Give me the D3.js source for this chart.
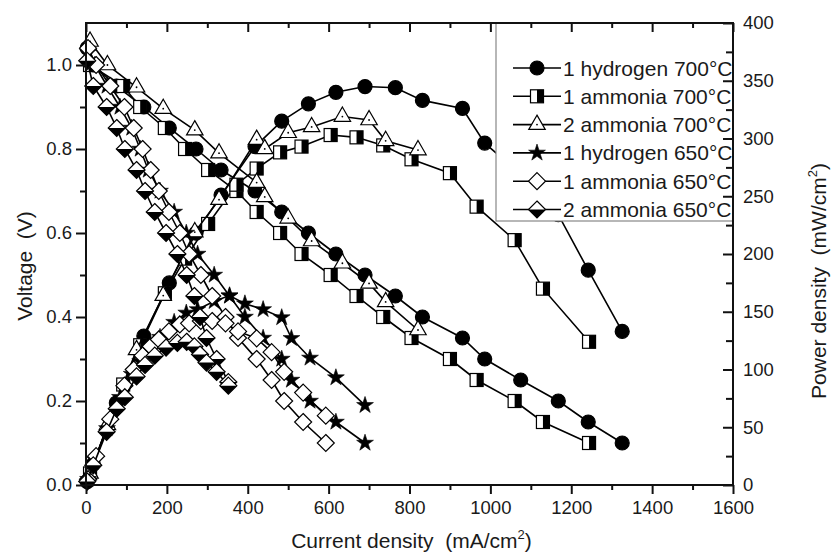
<!DOCTYPE html>
<html><head><meta charset="utf-8">
<script src="https://cdn.jsdelivr.net/npm/d3@7"></script>
<style>body{margin:0;background:#fff;} svg{display:block;font-family:"Liberation Sans",Arial,sans-serif;} text{white-space:pre;}</style>
</head><body><svg id="c" width="832" height="556"></svg>
<script>
// ---- data ----
const seriesNames = ["1 hydrogen 700°C","1 ammonia 700°C","2 ammonia 700°C","1 hydrogen 650°C","1 ammonia 650°C","2 ammonia 650°C"];

const currentH700 = [3, 18, 75, 143, 206, 272, 334, 418, 484, 550, 618, 690, 765, 832, 931, 986, 1075, 1168, 1242, 1326];
const voltageH700 = [1.04, 1.0, 0.95, 0.90, 0.85, 0.80, 0.75, 0.70, 0.65, 0.60, 0.55, 0.50, 0.45, 0.40, 0.35, 0.30, 0.25, 0.20, 0.15, 0.10];
const powerH700   = [3, 18, 71, 129, 175, 218, 251, 293, 315, 330, 340, 345, 344, 333, 326, 296, 269, 234, 186, 133];

const currentA700 = [10, 92, 134, 195, 245, 302, 372, 422, 480, 533, 605, 669, 735, 805, 900, 966, 1060, 1130, 1244];
const voltageA700 = [1.0, 0.95, 0.90, 0.85, 0.80, 0.75, 0.70, 0.65, 0.60, 0.55, 0.50, 0.45, 0.40, 0.35, 0.30, 0.25, 0.20, 0.15, 0.10];
const powerA700   = [10, 87, 121, 166, 196, 226, 260, 274, 288, 293, 303, 301, 294, 282, 270, 241, 212, 170, 124];

const currentA2700 = [10, 53, 125, 191, 269, 329, 422, 442, 500, 558, 634, 700, 741, 821];
const voltageA2700 = [1.056, 1.0, 0.947, 0.896, 0.845, 0.79, 0.72, 0.686, 0.635, 0.581, 0.528, 0.48, 0.436, 0.369];
const powerA2700   = [10, 52, 117, 164, 219, 247, 299, 291, 305, 310, 319, 316, 298, 290];

const currentH650 = [5, 22, 52, 84, 113, 134, 154, 183, 218, 248, 276, 317, 355, 393, 438, 484, 508, 554, 618, 690];
const voltageH650 = [1.03, 1.0, 0.95, 0.90, 0.85, 0.80, 0.75, 0.70, 0.65, 0.60, 0.55, 0.50, 0.45, 0.40, 0.35, 0.30, 0.25, 0.20, 0.15, 0.10];
const powerH650   = [5, 22, 49, 76, 96, 107, 116, 128, 141, 149, 152, 159, 164, 157, 152, 145, 127, 110, 93, 69];

const currentA650 = [5, 25, 60, 95, 118, 140, 160, 180, 205, 232, 255, 284, 312, 345, 376, 422, 459, 490, 537, 593];
const voltageA650 = [1.04, 1.0, 0.95, 0.90, 0.85, 0.80, 0.75, 0.70, 0.65, 0.60, 0.55, 0.50, 0.45, 0.40, 0.35, 0.30, 0.25, 0.20, 0.15, 0.10];
const powerA650   = [5, 25, 57, 86, 100, 112, 120, 126, 133, 139, 140, 142, 142, 140, 133, 127, 115, 98, 80, 60];

const currentA2650 = [3, 18, 51, 76, 96, 125, 146, 170, 198, 226, 249, 268, 282, 298, 323, 352];
const voltageA2650 = [1.01, 0.95, 0.90, 0.85, 0.80, 0.75, 0.70, 0.65, 0.60, 0.55, 0.50, 0.45, 0.40, 0.35, 0.30, 0.245];
const powerA2650   = [3, 17, 46, 66, 76, 94, 104, 112, 119, 123, 124, 120, 113, 106, 98, 86];

const xTickValues = [0, 200, 400, 600, 800, 1000, 1200, 1400, 1600];
const yLeftTickValues = [0.0, 0.2, 0.4, 0.6, 0.8, 1.0];
const yRightTickValues = [0, 50, 100, 150, 200, 250, 300, 350, 400];

const xTitle = "Current density  (mA/cm";
const yLeftTitle = "Voltage  (V)";
const yRightTitle = "Power density  (mW/cm";

// ---- layout ----
const L = 86, R = 733, T = 23, B = 485;
const svg = d3.select("#c");
const x = d3.scaleLinear().domain([0, 1600]).range([L, R]);
const yV = d3.scaleLinear().domain([0, 1.1]).range([B, T]);
const yP = d3.scaleLinear().domain([0, 400]).range([B, T]);
const FS = 18.5;
const TXT = "#1a1a1a";

const series = [
  {name: seriesNames[0], I: currentH700, V: voltageH700, P: powerH700, m: "circle"},
  {name: seriesNames[1], I: currentA700, V: voltageA700, P: powerA700, m: "halfsquare"},
  {name: seriesNames[2], I: currentA2700, V: voltageA2700, P: powerA2700, m: "triangle"},
  {name: seriesNames[3], I: currentH650, V: voltageH650, P: powerH650, m: "star"},
  {name: seriesNames[4], I: currentA650, V: voltageA650, P: powerA650, m: "diamond"},
  {name: seriesNames[5], I: currentA2650, V: voltageA2650, P: powerA2650, m: "halfdiamond"}
];

function drawMarker(g, type) {
  const sw = 1.2;
  if (type === "circle") {
    g.append("circle").attr("r", 7).attr("fill", "#000").attr("stroke", "#000").attr("stroke-width", sw);
  } else if (type === "halfsquare") {
    const s = 6.5;
    g.append("rect").attr("x", -s).attr("y", -s).attr("width", 2*s).attr("height", 2*s).attr("fill", "#fff");
    g.append("rect").attr("x", 0).attr("y", -s).attr("width", s).attr("height", 2*s).attr("fill", "#000");
    g.append("rect").attr("x", -s).attr("y", -s).attr("width", 2*s).attr("height", 2*s).attr("fill", "none").attr("stroke", "#000").attr("stroke-width", sw);
  } else if (type === "triangle") {
    const r = 9.5;
    const p = `M0,${-r}L${r*0.866},${r*0.5}L${-r*0.866},${r*0.5}Z`;
    g.append("path").attr("d", p).attr("fill", "#fff").attr("stroke", "#000").attr("stroke-width", sw);
    g.append("circle").attr("r", 0.9).attr("fill", "#000");
  } else if (type === "star") {
    g.append("path").attr("d", d3.symbol(d3.symbolStar, 88)()).attr("fill", "#000").attr("stroke", "#000").attr("stroke-width", 0.6);
  } else if (type === "diamond") {
    const r = 8.5;
    g.append("path").attr("d", `M0,${-r}L${r},0L0,${r}L${-r},0Z`).attr("fill", "#fff").attr("stroke", "#000").attr("stroke-width", sw);
  } else if (type === "halfdiamond") {
    const r = 8.5;
    g.append("path").attr("d", `M0,${-r}L${r},0L0,${r}L${-r},0Z`).attr("fill", "#fff");
    g.append("path").attr("d", `M${-r},0L${r},0L0,${r}Z`).attr("fill", "#000");
    g.append("path").attr("d", `M0,${-r}L${r},0L0,${r}L${-r},0Z`).attr("fill", "none").attr("stroke", "#000").attr("stroke-width", sw);
  }
}

// ---- data layers ----
const dataG = svg.append("g");
series.forEach(s => {
  const ptsV = s.I.map((c, i) => [c, s.V[i]]);
  const ptsP = s.I.map((c, i) => [c, s.P[i]]);
  const lineV = d3.line().x(d => x(d[0])).y(d => yV(d[1]));
  const lineP = d3.line().x(d => x(d[0])).y(d => yP(d[1]));
  dataG.append("path").attr("d", lineV(ptsV)).attr("fill", "none").attr("stroke", "#000").attr("stroke-width", 1.6);
  dataG.append("path").attr("d", lineP(ptsP)).attr("fill", "none").attr("stroke", "#000").attr("stroke-width", 1.6);
  ptsV.forEach(d => drawMarker(dataG.append("g").attr("transform", `translate(${x(d[0])},${yV(d[1])})`), s.m));
  ptsP.forEach(d => drawMarker(dataG.append("g").attr("transform", `translate(${x(d[0])},${yP(d[1])})`), s.m));
});

// ---- legend ----
const lg = svg.append("g");
lg.append("rect").attr("x", 496).attr("y", T).attr("width", R - 496).attr("height", 221 - T)
  .attr("fill", "#fff").attr("stroke", "#888").attr("stroke-width", 1.2);
series.forEach((s, i) => {
  const yy = 68 + i * 28.3;
  lg.append("line").attr("x1", 513).attr("x2", 561).attr("y1", yy).attr("y2", yy).attr("stroke", "#000").attr("stroke-width", 1.6);
  drawMarker(lg.append("g").attr("transform", `translate(537,${yy})`), s.m);
  lg.append("text").attr("x", 563).attr("y", yy).attr("dy", "0.36em").attr("font-size", 21).attr("fill", TXT).text(s.name);
});

// ---- axes ----
const axG = svg.append("g");
function styleAxis(g) {
  g.select(".domain").remove();
  g.selectAll(".tick line").attr("stroke", "#111").attr("stroke-width", 2);
  g.selectAll(".tick text").attr("font-size", FS).attr("fill", TXT).attr("font-family", '"Liberation Sans",Arial,sans-serif');
}
axG.append("g").attr("transform", `translate(0,${B})`)
  .call(d3.axisBottom(x).tickValues(xTickValues).tickSize(9).tickPadding(7).tickFormat(d3.format("d"))).call(styleAxis);
axG.append("g").attr("transform", `translate(0,${B})`)
  .call(d3.axisBottom(x).tickValues(d3.range(100, 1600, 200)).tickSize(5).tickFormat("")).call(styleAxis);
axG.append("g").attr("transform", `translate(0,${T})`)
  .call(d3.axisTop(x).tickValues(xTickValues).tickSize(-9).tickFormat("")).call(styleAxis);
axG.append("g").attr("transform", `translate(0,${T})`)
  .call(d3.axisTop(x).tickValues(d3.range(100, 1600, 200)).tickSize(-5).tickFormat("")).call(styleAxis);
axG.append("g").attr("transform", `translate(${L},0)`)
  .call(d3.axisLeft(yV).tickValues(yLeftTickValues).tickSize(10).tickPadding(4).tickFormat(d3.format(".1f"))).call(styleAxis);
axG.append("g").attr("transform", `translate(${L},0)`)
  .call(d3.axisLeft(yV).tickValues([0.1, 0.3, 0.5, 0.7, 0.9]).tickSize(6).tickFormat("")).call(styleAxis);
axG.append("g").attr("transform", `translate(${R},0)`)
  .call(d3.axisRight(yP).tickValues(yRightTickValues).tickSize(-10).tickPadding(10).tickFormat(d3.format("d"))).call(styleAxis);
axG.append("g").attr("transform", `translate(${R},0)`)
  .call(d3.axisRight(yP).tickValues(d3.range(25, 400, 50)).tickSize(-7).tickFormat("")).call(styleAxis);

axG.append("rect").attr("x", L).attr("y", T).attr("width", R - L).attr("height", B - T)
  .attr("fill", "none").attr("stroke", "#111").attr("stroke-width", 2);

// titles
const xt = svg.append("text").attr("x", (L + R) / 2 + 2).attr("y", 548).attr("text-anchor", "middle").attr("font-size", 21).attr("fill", TXT);
xt.append("tspan").text(xTitle);
xt.append("tspan").attr("dy", -9).attr("font-size", 13).text("2");
xt.append("tspan").attr("dy", 9).text(")");

svg.append("text").attr("transform", "translate(32,266) rotate(-90)").attr("text-anchor", "middle")
  .attr("font-size", 21).attr("fill", TXT).text(yLeftTitle);

const yt = svg.append("text").attr("transform", "translate(826,281) rotate(-90)").attr("text-anchor", "middle").attr("font-size", 21).attr("fill", TXT);
yt.append("tspan").text(yRightTitle);
yt.append("tspan").attr("dy", -9).attr("font-size", 13).text("2");
yt.append("tspan").attr("dy", 9).text(")");
</script>
</body></html>
